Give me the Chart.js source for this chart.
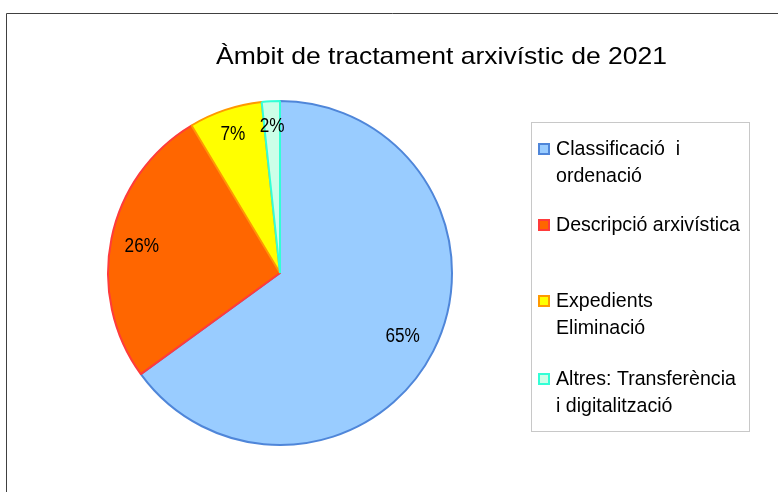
<!DOCTYPE html>
<html>
<head>
<meta charset="utf-8">
<script src="https://cdn.jsdelivr.net/npm/chart.js@4/dist/chart.umd.min.js"></script>
<style>
  html, body { margin: 0; padding: 0; background: #fff; }
  #wrap { position: relative; width: 778px; height: 492px; }
</style>
</head>
<body>
<div id="wrap"><canvas id="pieChart" width="778" height="492"></canvas></div>
<script>
// dades llegides del gràfic
const chartTitle = "Àmbit de tractament arxivístic de 2021";
const categories = [
  ["Classificació  i", "ordenació"],
  ["Descripció arxivística"],
  ["Expedients", "Eliminació"],
  ["Altres: Transferència", "i digitalització"],
];
const values = [65.0, 26.4, 6.9, 1.7];
const fillColors = ["#99CCFF", "#FF6600", "#FFFF00", "#CCFFE8"];
const edgeColors = ["#4F86D9", "#FF3B3B", "#FF9900", "#33FFD6"];

const FONT = "'Liberation Sans', Arial, sans-serif";

// text amb escala horitzontal (el gràfic original està una mica deformat)
const drawText = (ctx, txt, x, y, size, sx, align) => {
  ctx.save();
  ctx.font = `${size}px ${FONT}`;
  ctx.fillStyle = "#000";
  ctx.textBaseline = "alphabetic";
  ctx.textAlign = align || "left";
  ctx.translate(x, y);
  ctx.scale(sx, 1);
  ctx.fillText(txt, 0, 0);
  ctx.restore();
};

const extras = {
  id: "extras",
  afterDraw(chart) {
    const ctx = chart.ctx;

    // marc exterior
    ctx.save();
    ctx.strokeStyle = "#404040";
    ctx.lineWidth = 1;
    ctx.beginPath();
    ctx.moveTo(6.5, 492);
    ctx.lineTo(6.5, 13.5);
    ctx.lineTo(778, 13.5);
    ctx.stroke();
    ctx.restore();

    // títol, ajustat a l'amplada original
    ctx.save();
    ctx.font = `24px ${FONT}`;
    const tw = ctx.measureText(chartTitle).width;
    ctx.restore();
    drawText(ctx, chartTitle, 216, 64, 24, 451 / tw);

    // etiquetes de percentatge
    const meta = chart.getDatasetMeta(0);
    const total = values.reduce((a, b) => a + b, 0);
    meta.data.forEach((arc, i) => {
      const p = arc.getProps(["x", "y", "startAngle", "endAngle", "outerRadius"], true);
      const mid = (p.startAngle + p.endAngle) / 2;
      const r = p.outerRadius * (i === 0 ? 0.8 : i === 1 ? 0.82 : 0.86);
      const lx = p.x + Math.cos(mid) * r;
      const ly = p.y + Math.sin(mid) * r;
      const pct = Math.round((values[i] / total) * 100) + "%";
      drawText(ctx, pct, lx, ly + 7, 20, 0.86, "center");
    });

    // llegenda
    ctx.save();
    ctx.strokeStyle = "#C8C8C8";
    ctx.lineWidth = 1;
    ctx.strokeRect(531.5, 122.5, 218, 309);
    ctx.restore();

    const itemTop = [143, 219, 295, 373];
    categories.forEach((lines, i) => {
      const y0 = itemTop[i];
      ctx.save();
      ctx.fillStyle = fillColors[i];
      ctx.fillRect(538, y0, 12, 12);
      ctx.strokeStyle = edgeColors[i];
      ctx.lineWidth = 2;
      ctx.strokeRect(539, y0 + 1, 10, 10);
      ctx.restore();
      lines.forEach((ln, j) => {
        drawText(ctx, ln, 556, y0 + 12 + j * 26.5, 20.5, 0.955);
      });
    });
  },
};

new Chart(document.getElementById("pieChart").getContext("2d"), {
  type: "pie",
  data: {
    labels: categories,
    datasets: [
      {
        data: values,
        backgroundColor: fillColors,
        borderColor: edgeColors,
        borderWidth: 2,
      },
    ],
  },
  options: {
    responsive: false,
    animation: false,
    layout: {
      padding: { left: 107, right: 325, top: 100, bottom: 46 },
    },
    plugins: {
      legend: { display: false },
      title: { display: false },
      tooltip: { enabled: false },
    },
  },
  plugins: [extras],
});
</script>
</body>
</html>
